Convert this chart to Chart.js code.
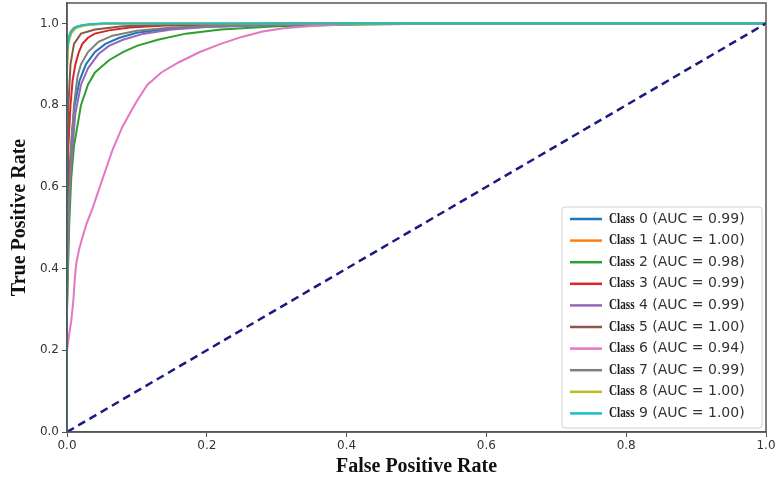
<!DOCTYPE html>
<html><head><meta charset="utf-8">
<script src="https://cdn.jsdelivr.net/npm/chart.js@4/dist/chart.umd.min.js"></script>
<style>html,body{margin:0;padding:0;background:#fff}#wrap{width:776px;height:484px}</style>
</head><body><div id="wrap"><canvas id="c" width="776" height="484"></canvas></div>
<script>
const classLabels = ["Class 0 (AUC = 0.99)","Class 1 (AUC = 1.00)","Class 2 (AUC = 0.98)","Class 3 (AUC = 0.99)","Class 4 (AUC = 0.99)","Class 5 (AUC = 1.00)","Class 6 (AUC = 0.94)","Class 7 (AUC = 0.99)","Class 8 (AUC = 1.00)","Class 9 (AUC = 1.00)"];
const classColors = ["#1f77b4","#ff7f0e","#2ca02c","#d62728","#9467bd","#8c564b","#e377c2","#7f7f7f","#bcbd22","#17becf"];
const xTicks = [0,0.2,0.4,0.6,0.8,1.0];
const yTicks = [0,0.2,0.4,0.6,0.8,1.0];

const class0Fpr = [0,0,0.003,0.007,0.011,0.018,0.027,0.04,0.055,0.075,0.1,0.14,0.2,0.3,0.48,1];
const class0Tpr = [0,0.45,0.62,0.73,0.8,0.86,0.9,0.93,0.95,0.965,0.977,0.986,0.992,0.997,1,1];
const class1Fpr = [0,0,0.002,0.005,0.01,0.02,0.05,1];
const class1Tpr = [0,0.9,0.96,0.98,0.99,0.995,1,1];
const class2Fpr = [0,0,0.003,0.006,0.01,0.02,0.03,0.04,0.06,0.08,0.1,0.13,0.17,0.22,0.3,0.4,0.54,1];
const class2Tpr = [0,0.3,0.5,0.62,0.7,0.8,0.85,0.88,0.91,0.93,0.945,0.96,0.975,0.985,0.993,0.997,1,1];
const class3Fpr = [0,0,0.002,0.005,0.008,0.012,0.017,0.022,0.03,0.04,0.06,0.09,0.14,0.25,0.4,1];
const class3Tpr = [0,0.5,0.7,0.8,0.86,0.9,0.93,0.95,0.965,0.975,0.983,0.99,0.995,0.998,1,1];
const class4Fpr = [0,0,0.004,0.008,0.012,0.02,0.03,0.045,0.06,0.08,0.11,0.15,0.2,0.3,0.45,1];
const class4Tpr = [0,0.4,0.6,0.7,0.78,0.85,0.89,0.925,0.945,0.96,0.975,0.985,0.991,0.996,1,1];
const class5Fpr = [0,0,0.002,0.005,0.01,0.02,0.04,0.08,0.15,0.3,1];
const class5Tpr = [0,0.6,0.8,0.9,0.95,0.975,0.985,0.993,0.997,1,1];
const class6Fpr = [0,0,0.004,0.006,0.009,0.011,0.013,0.017,0.021,0.028,0.036,0.045,0.055,0.065,0.079,0.09,0.1,0.115,0.135,0.16,0.19,0.22,0.25,0.28,0.31,0.35,0.4,0.45,1];
const class6Tpr = [0,0.2,0.25,0.27,0.32,0.37,0.41,0.445,0.47,0.51,0.545,0.59,0.64,0.69,0.746,0.78,0.81,0.85,0.88,0.905,0.93,0.95,0.967,0.98,0.988,0.994,0.998,1,1];
const class7Fpr = [0,0,0.003,0.006,0.01,0.015,0.02,0.03,0.045,0.065,0.1,0.15,0.25,0.4,1];
const class7Tpr = [0,0.3,0.55,0.7,0.8,0.87,0.9,0.93,0.955,0.97,0.982,0.99,0.996,1,1];
const class8Fpr = [0,0,0.002,0.006,0.012,0.025,0.06,1];
const class8Tpr = [0,0.88,0.95,0.975,0.988,0.995,1,1];
const class9Fpr = [0,0,0.003,0.008,0.015,0.03,0.05,1];
const class9Tpr = [0,0.93,0.97,0.985,0.993,0.998,1,1];
const diagFpr = [0,1];
const diagTpr = [0,1];

const fprs = [class0Fpr,class1Fpr,class2Fpr,class3Fpr,class4Fpr,class5Fpr,class6Fpr,class7Fpr,class8Fpr,class9Fpr];
const tprs = [class0Tpr,class1Tpr,class2Tpr,class3Tpr,class4Tpr,class5Tpr,class6Tpr,class7Tpr,class8Tpr,class9Tpr];
const pts = (xs, ys) => xs.map((x, i) => ({x: x, y: ys[i]}));

const datasets = classLabels.map((lab, i) => ({
  label: lab, data: pts(fprs[i], tprs[i]), borderColor: classColors[i], backgroundColor: classColors[i],
  showLine: true, pointRadius: 0, borderWidth: 2, tension: 0, order: 11 - i
}));
datasets.push({label: "diag", data: pts(diagFpr, diagTpr), borderColor: "#1a1a80", showLine: true,
  pointRadius: 0, borderWidth: 2.5, borderDash: [8, 5], order: 0});

const framePlugin = {
  id: 'frame',
  afterDatasetsDraw(chart) {
    const a = chart.chartArea, ctx = chart.ctx;
    ctx.save();
    ctx.strokeStyle = '#555'; ctx.lineWidth = 1.5;
    ctx.strokeRect(a.left, a.top, a.right - a.left, a.bottom - a.top);
    // legend
    const bx = 562, by = 207, bw = 200, bh = 221;
    ctx.fillStyle = 'rgba(255,255,255,0.85)';
    ctx.strokeStyle = '#d0d0d0'; ctx.lineWidth = 1;
    ctx.beginPath();
    if (ctx.roundRect) ctx.roundRect(bx, by, bw, bh, 3); else ctx.rect(bx, by, bw, bh);
    ctx.fill(); ctx.stroke();
    ctx.textBaseline = 'middle';
    classLabels.forEach((lab, i) => {
      const y = by + 12 + i * 21.6;
      ctx.strokeStyle = classColors[i]; ctx.lineWidth = 2.5;
      ctx.beginPath(); ctx.moveTo(570, y); ctx.lineTo(602, y); ctx.stroke();
      const parts = lab.split(' ');
      const first = parts[0];
      const rest = ' ' + parts.slice(1).join(' ');
      ctx.fillStyle = '#1a1a1a';
      ctx.font = 'bold 14px "Liberation Serif"';
      const w = ctx.measureText(first).width * 0.8;
      ctx.save();
      ctx.translate(609, y);
      ctx.scale(0.8, 1);
      ctx.fillText(first, 0, 0);
      ctx.restore();
      ctx.font = '14px "DejaVu Sans"';
      ctx.fillStyle = '#333';
      ctx.fillText(rest, 609 + w, y);
    });
    ctx.restore();
  }
};

new Chart(document.getElementById('c'), {
  type: 'scatter',
  data: {datasets},
  options: {
    responsive: false, animation: false, devicePixelRatio: 1,
    layout: {padding: {top: 3, right: 10, left: 0, bottom: 0}},
    plugins: {legend: {display: false}, tooltip: {enabled: false}},
    scales: {
      x: {
        type: 'linear', min: 0, max: 1,
        afterBuildTicks: s => { s.ticks = xTicks.map(v => ({value: v})); },
        afterFit: s => { s.height = 52; s.paddingLeft = 0; s.paddingRight = 0; },
        ticks: {callback: v => v.toFixed(1), color: '#333', font: {family: 'DejaVu Sans', size: 12}, padding: 2, maxRotation: 0},
        grid: {drawOnChartArea: false, drawTicks: true, tickLength: 5, color: '#555'},
        border: {display: true, color: '#555', width: 1.5},
        title: {display: true, text: 'False Positive Rate', color: '#111', font: {family: 'Liberation Serif', weight: 'bold', size: 20}, padding: {top: 2, bottom: 5}}
      },
      y: {
        type: 'linear', min: 0, max: 1.05,
        afterBuildTicks: s => { s.ticks = yTicks.map(v => ({value: v})); },
        afterFit: s => { s.width = 67; s.paddingTop = 0; s.paddingBottom = 0; },
        ticks: {callback: v => v.toFixed(1), color: '#333', font: {family: 'DejaVu Sans', size: 12}, padding: 3},
        grid: {drawOnChartArea: false, drawTicks: true, tickLength: 5, color: '#555'},
        border: {display: true, color: '#555', width: 1.5},
        title: {display: true, text: 'True Positive Rate', color: '#111', font: {family: 'Liberation Serif', weight: 'bold', size: 20}, padding: {top: 8, bottom: 4}}
      }
    }
  },
  plugins: [framePlugin]
});
</script></body></html>
